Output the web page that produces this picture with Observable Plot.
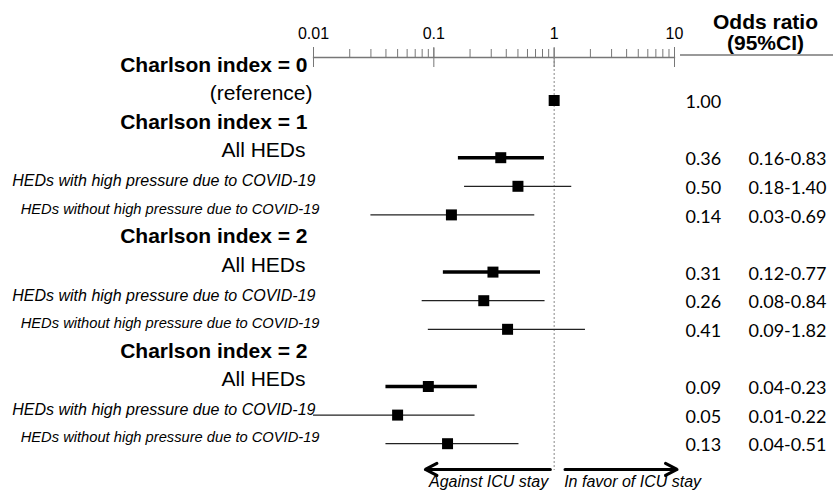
<!DOCTYPE html>
<html><head><meta charset="utf-8">
<script src="https://cdn.jsdelivr.net/npm/d3@7"></script>
<script src="https://cdn.jsdelivr.net/npm/@observablehq/plot@0.6"></script>
<style>body{margin:0;background:#fff} #chart svg{display:block}</style>
</head><body><div id="chart"></div>
<script>
// ---- data ----
const labels = [
  "Charlson index = 0", "(reference)",
  "Charlson index = 1", "All HEDs",
  "HEDs with high pressure due to COVID-19", "HEDs without high pressure due to COVID-19",
  "Charlson index = 2", "All HEDs",
  "HEDs with high pressure due to COVID-19", "HEDs without high pressure due to COVID-19",
  "Charlson index = 2", "All HEDs",
  "HEDs with high pressure due to COVID-19", "HEDs without high pressure due to COVID-19"
];
const kinds = ["header","ref","header","all","with","without","header","all","with","without","header","all","with","without"];
const oddsRatio = [null, 1.00, null, 0.36, 0.50, 0.14, null, 0.31, 0.26, 0.41, null, 0.09, 0.05, 0.13];
const ciLow    = [null, null, null, 0.16, 0.18, 0.03, null, 0.12, 0.08, 0.09, null, 0.04, 0.01, 0.04];
const ciHigh   = [null, null, null, 0.83, 1.40, 0.69, null, 0.77, 0.84, 1.82, null, 0.23, 0.22, 0.51];
const orLabels = ["", "1.00", "", "0.36", "0.50", "0.14", "", "0.31", "0.26", "0.41", "", "0.09", "0.05", "0.13"];
const ciLabels = ["", "", "", "0.16-0.83", "0.18-1.40", "0.03-0.69", "", "0.12-0.77", "0.08-0.84", "0.09-1.82", "", "0.04-0.23", "0.01-0.22", "0.04-0.51"];
const majorTicks = [0.01, 0.1, 1, 10];
const minorTicks = [0.02,0.03,0.04,0.05,0.06,0.07,0.08,0.09,0.2,0.3,0.4,0.5,0.6,0.7,0.8,0.9,2,3,4,5,6,7,8,9];
const arrowTexts = ["Against ICU stay", "In favor of ICU stay"];
const arrowFrom = [0.93, 1.23];
const arrowTo = [0.085, 10.5];
const arrowRow = 13.9;
const headerLines = ["Odds ratio", "(95%CI)"];

// ---- build ----
const rows = labels.map((label, i) => ({row: i, label, kind: kinds[i], or: oddsRatio[i], lo: ciLow[i], hi: ciHigh[i], orText: orLabels[i], ciText: ciLabels[i]}));
const est = rows.filter(d => d.or != null);
const ci = rows.filter(d => d.lo != null);
const arrows = arrowTexts.map((t, i) => ({text: t, from: arrowFrom[i], to: arrowTo[i], row: arrowRow}));

const font = "'Liberation Sans', Arial, Helvetica, sans-serif";
const numFont = "Lato, 'Open Sans', sans-serif";

function labelMark(kind, opts) {
  return Plot.text(rows.filter(d => d.kind === kind), {
    y: "row", text: "label", frameAnchor: "left", textAnchor: "end", fill: "black", ...opts
  });
}

const svg = Plot.plot({
  width: 833, height: 492,
  marginLeft: 313, marginRight: 159, marginTop: 57, marginBottom: 22,
  x: {type: "log", domain: [0.01, 10], label: null},
  y: {domain: [0, 13], range: [71.4, 443.2], axis: null, label: null},
  style: {fontFamily: font, background: "white", overflow: "visible", color: "black"},
  marks: [
    Plot.frame({anchor: "top", stroke: "#777", strokeWidth: 1.3}),
    Plot.axisX(minorTicks, {anchor: "top", tickSize: 9, tickFormat: () => "", stroke: "#777", label: null}),
    Plot.axisX(majorTicks, {anchor: "top", tickSize: 10, tickPadding: 9, tickFormat: d => String(d), stroke: "#777", fill: "black", fontSize: 16, label: null}),
    Plot.ruleX(majorTicks, {stroke: "#777", insetTop: -10, insetBottom: 403}),
    Plot.ruleX([1], {stroke: "#888", strokeDasharray: "2,2"}),
    Plot.ruleY(ci.filter(d => d.kind !== "all"), {y: "row", x1: "lo", x2: "hi", stroke: "#222", strokeWidth: 1.2}),
    Plot.ruleY(ci.filter(d => d.kind === "all"), {y: "row", x1: "lo", x2: "hi", stroke: "black", strokeWidth: 3.5}),
    Plot.dot(est, {x: "or", y: "row", symbol: "square", r: 6.2, fill: "black", stroke: null}),
    labelMark("header", {dx: -6, dy: -7, fontSize: 21, fontWeight: "bold"}),
    labelMark("ref", {dx: -1, dy: -7, fontSize: 21}),
    labelMark("all", {dx: -8, dy: -7, fontSize: 21}),
    labelMark("with", {dx: 2, dy: -5, fontSize: 16, fontStyle: "italic"}),
    labelMark("without", {dx: 6, dy: -6, fontSize: 14.7, fontStyle: "italic"}),
    Plot.text(est, {y: "row", text: "orText", frameAnchor: "right", textAnchor: "start", dx: 11, dy: 2, fontFamily: numFont, fontSize: 18, fill: "black"}),
    Plot.text(est, {y: "row", text: "ciText", frameAnchor: "right", textAnchor: "start", dx: 74, dy: 2, fontFamily: numFont, fontSize: 18, fill: "black"}),
    Plot.text([headerLines[0]], {frameAnchor: "top-right", text: d => d, textAnchor: "middle", dx: 91, dy: -43, fontSize: 21, fontWeight: "bold", fill: "black"}),
    Plot.text([headerLines[1]], {frameAnchor: "top-right", text: d => d, textAnchor: "middle", dx: 91, dy: -22, fontSize: 21, fontWeight: "bold", fill: "black"}),
    Plot.arrow(arrows, {x1: "from", x2: "to", y1: "row", y2: "row", stroke: "black", strokeWidth: 3, headLength: 6.5, headAngle: 55}),
    Plot.text(arrows.slice(0, 1), {x: 1, frameAnchor: "bottom", text: "text", textAnchor: "end", dx: -6, dy: 16, fontSize: 16, fontStyle: "italic", fill: "black"}),
    Plot.text(arrows.slice(1), {x: 1, frameAnchor: "bottom", text: "text", textAnchor: "start", dx: 10, dy: 16, fontSize: 16, fontStyle: "italic", fill: "black"})
  ]
});

// separator under the "Odds ratio" header
d3.select(svg).append("line")
  .attr("x1", 680).attr("x2", 833).attr("y1", 55).attr("y2", 55)
  .attr("stroke", "#777").attr("stroke-width", 1.5);

document.getElementById("chart").appendChild(svg);
</script>
</body></html>
